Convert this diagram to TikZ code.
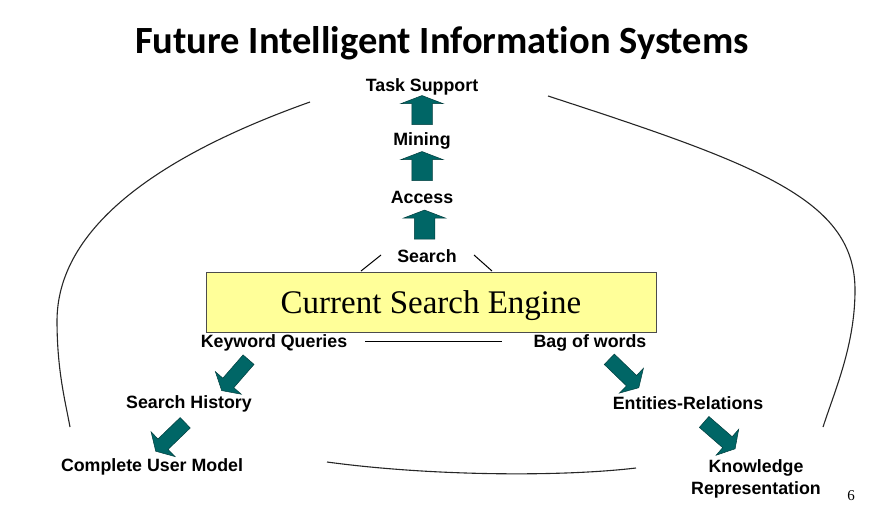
\documentclass[tikz,border=0pt]{standalone}
\usepackage{fontspec}
\setmainfont{Liberation Serif}
\setsansfont{Liberation Sans}
\newfontfamily\titlefont[Ligatures=NoCommon]{Carlito}
\usepackage{tikz}
\usetikzlibrary{shapes.arrows,calc}
\definecolor{arrowteal}{RGB}{0,102,102}
\definecolor{boxyellow}{RGB}{255,255,153}
\tikzset{
  lbl/.style={font=\sffamily\bfseries\fontsize{17.8}{22}\selectfont, inner sep=1pt, text depth=0pt},
  blockarrow/.style={single arrow, fill=arrowteal, draw=arrowteal!60!black,
                     line width=0.5pt, inner xsep=0pt},
  uparrow/.style={blockarrow, minimum height=29, inner ysep=10,
                  single arrow head extend=11, single arrow tip angle=138, rotate=90},
  diagarrow/.style={blockarrow, minimum height=41, inner ysep=7,
                    single arrow head extend=10, single arrow tip angle=119},
  arch/.style={line width=1.1pt, black!85},
}

\begin{document}
\begin{tikzpicture}[x=1pt,y=-1pt]
    \useasboundingbox (0,0) rectangle (883,504);

    % Title
    \node[font=\titlefont\bfseries\fontsize{38.5}{42}\selectfont] (title) at (442,43)
        {Future Intelligent Information Systems};

    % Stack above the engine
    \node[lbl] (task)   at (422,85)  {Task Support};
    \node[lbl] (mining) at (422,139) {Mining};
    \node[lbl] (access) at (422,197) {Access};
    \node[lbl] (search) at (427,256) {Search};

    % Engine box
    \node[draw=black!70, fill=boxyellow, line width=0.8pt, minimum width=450, minimum height=60,
          text depth=0pt, font=\fontsize{33}{36}\selectfont] (engine) at (431,302) {Current Search Engine};

    % Labels below
    \node[lbl] (kwq)    at (274,341) {Keyword Queries};
    \node[lbl] (bow)    at (590,341) {Bag of words};
    \node[lbl] (shist)  at (189,402) {Search History};
    \node[lbl] (cum)    at (152,465) {Complete User Model};
    \node[lbl] (entrel) at (688,403) {Entities-Relations};
    \node[lbl, align=center] (know) at (756,477) {Knowledge\\Representation};

    % Up arrows
    \foreach \a/\b in {search/access, access/mining, mining/task}
        \node[uparrow] (up\a) at ($(\a)!0.5!(\b)$) {};

    % Diagonal arrows
    \foreach \n/\x/\y/\r in {dl1/236.5/373.5/229, dl2/172/435.5/224,
                             dr1/622.5/372/316, dr2/718/434/319}
        \node[diagarrow, rotate=\r] (\n) at (\x,\y) {};

    % Short lines
    \coordinate (sl1) at (361,271);
    \coordinate (sl2) at (381,255);
    \coordinate (sr1) at (474,255);
    \coordinate (sr2) at (492,271);
    \draw[line width=1pt] (sl1) -- (sl2);
    \draw[line width=1pt] (sr1) -- (sr2);
    \draw[line width=1pt] ([xshift=17]kwq.east) -- ([xshift=-30]bow.west);

    % Arches
    \draw[arch] (310,102) .. controls (175,150) and (58,220) .. (57,320)
                .. controls (57,370) and (65,400) .. (70,427);
    \draw[arch] (548,96) .. controls (760,165) and (855,200) .. (855,290)
                .. controls (855,345) and (835,390) .. (823,427);
    \draw[arch] (327,462) .. controls (430,476) and (560,477) .. (636,468);

    % Page number
    \node[font=\fontsize{15}{16}\selectfont] (page) at (851,496) {6};
\end{tikzpicture}
\end{document}
